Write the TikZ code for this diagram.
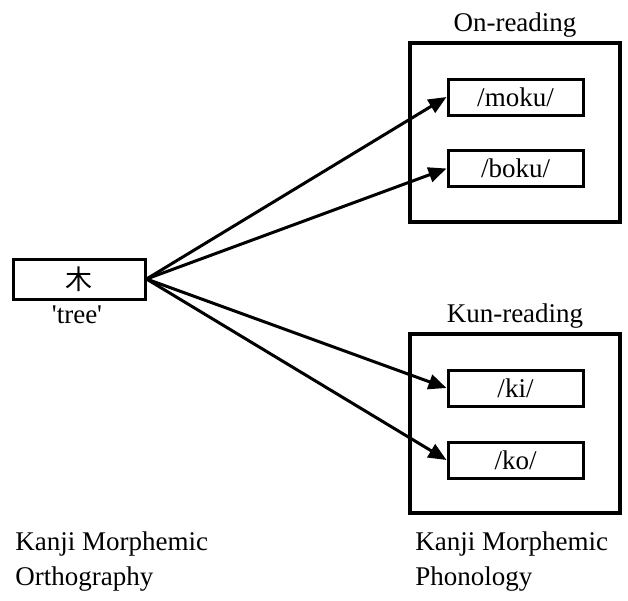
\documentclass[tikz,border=0pt]{standalone}
\usepackage{fontspec}
\setmainfont{Liberation Serif}[Ligatures=TeXOff]
\newfontfamily\cjk{Noto Sans CJK JP}
\usetikzlibrary{arrows.meta, positioning}

\begin{document}
\begin{tikzpicture}[x=0.5pt, y=-0.5pt, font=\fontsize{13.5}{17.5}\selectfont,
	box/.style={draw, line width=1.5pt, minimum width=67.5pt, minimum height=18pt, inner sep=0pt},
	group/.style={draw, line width=2pt, minimum width=105pt, minimum height=89.5pt},
	link/.style={line width=1.5pt, -{Triangle[length=9pt, width=7.5pt]}},]
\useasboundingbox (0,0) rectangle (628,601);
% orthography side
\node[box, minimum width=66pt, minimum height=20pt] (kanji) at (79,279) {\cjk 木};
\node[below=2.5pt of kanji, inner sep=0pt, xshift=-1pt] (gloss) {'tree'};
% phonology side
\node[group] (on) at (515,132.5) {};
\node[above=1.5pt of on, inner sep=0pt] (onlabel) {On-reading};
\node[box] (moku) at (515.5,97) {/moku/};
\node[box] (boku) at (515.5,168.5) {/boku/};
\node[group] (kun) at (515,423) {};
\node[above=1.5pt of kun, inner sep=0pt] (kunlabel) {Kun-reading};
\node[box] (ki) at (515.5,388) {/ki/};
\node[box] (ko) at (515.5,460) {/ko/};
\foreach \r in {moku,boku,ki,ko}
	\draw[link] (kanji.east) -- (\r.west);
% captions
\node[anchor=base west, align=left, inner sep=0pt] (ortho) at (15,585) {Kanji Morphemic\\Orthography};
\node[anchor=base west, align=left, inner sep=0pt] (phono) at (415,585) {Kanji Morphemic\\Phonology};
\end{tikzpicture}
\end{document}
